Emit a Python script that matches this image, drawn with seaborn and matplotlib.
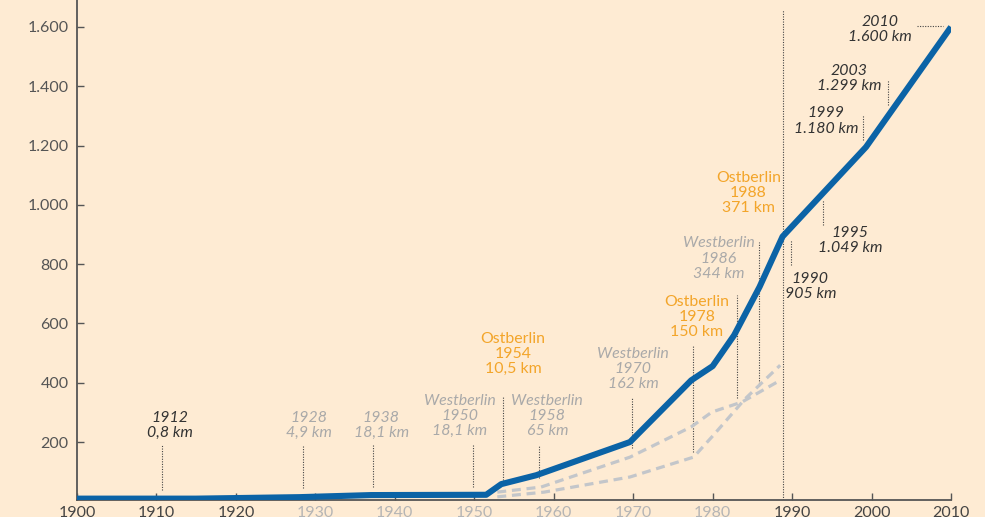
import matplotlib
matplotlib.use("Agg")
import matplotlib.pyplot as plt
import pandas as pd
import seaborn as sns
from matplotlib.ticker import FuncFormatter

# Streckennetz gesamt (km)
total_years = [1900, 1915, 1928, 1937, 1951.5, 1953.4, 1957.8, 1969.6, 1977.3,
               1980.0, 1982.7, 1985.9, 1988.8, 1999.3, 2010]
total_km = [9, 9, 14, 21, 22, 58, 88, 200, 408, 456, 560, 723, 893, 1195, 1600]

# Westberlin / Ostberlin (gestrichelt)
west_years = [1952.9, 1958.4, 1969.6, 1977.3, 1979.9, 1983.7, 1988.5]
west_km = [31, 48, 149, 251, 301, 335, 408]
east_years = [1952.9, 1958.8, 1969.6, 1977.6, 1979.9, 1984.1, 1988.5]
east_km = [15, 31, 82, 149, 217, 346, 459]

x_ticks = list(range(1900, 2011, 10))
faded_x_ticks = [1930, 1940, 1950, 1960, 1970, 1980]
y_ticks = [200, 400, 600, 800, 1000, 1200, 1400, 1600]

BG = "#FEEBD3"
BLUE = "#0B63A6"
ORANGE = "#F3A52A"
GREY = "#A9A9A9"
DARK = "#333333"
DASH = "#C3C6CA"

# label text, colour, italic, x (year), y (km)
labels = [
    ("1912\n0,8 km", DARK, True, 1911.7, 256),
    ("1928\n4,9 km", GREY, True, 1929.2, 257),
    ("1938\n18,1 km", GREY, True, 1938.3, 257),
    ("Westberlin\n1950\n18,1 km", GREY, True, 1948.2, 288),
    ("Ostberlin\n1954\n10,5 km", ORANGE, False, 1954.9, 497),
    ("Westberlin\n1958\n65 km", GREY, True, 1959.2, 288),
    ("Westberlin\n1970\n162 km", GREY, True, 1970.0, 445),
    ("Ostberlin\n1978\n150 km", ORANGE, False, 1978.0, 622),
    ("Westberlin\n1986\n344 km", GREY, True, 1980.8, 819),
    ("Ostberlin\n1988\n371 km", ORANGE, False, 1984.5, 1039),
    ("1990\n905 km", DARK, True, 1992.3, 726),
    ("1995\n1.049 km", DARK, True, 1997.3, 881),
    ("1999\n1.180 km", DARK, True, 1994.3, 1283),
    ("2003\n1.299 km", DARK, True, 1997.2, 1427),
    ("2010\n1.600 km", DARK, True, 2001.1, 1590),
]

# dotted leader lines: x, y from, y to
leaders = [
    (1910.7, 38, 189), (1928.4, 45, 189), (1937.3, 48, 189), (1949.8, 48, 189),
    (1953.6, 72, 352), (1958.1, 79, 190), (1969.9, 180, 352), (1977.5, 167, 527),
    (1983.1, 348, 697), (1985.8, 390, 875), (1988.9, 4, 1658), (1989.9, 797, 881),
    (1993.9, 932, 1016), (1998.9, 1219, 1303), (2002.1, 1337, 1421),
]

sns.set_style("ticks")
plt.rcParams["font.family"] = ["Lato", "DejaVu Sans"]

fig = plt.figure(figsize=(9.85, 5.17), dpi=100, facecolor=BG)
ax = fig.add_axes([77 / 985, 17 / 517, (951 - 77) / 985, 500 / 517])
ax.set_facecolor(BG)

west = pd.DataFrame({"jahr": west_years, "km": west_km})
east = pd.DataFrame({"jahr": east_years, "km": east_km})
total = pd.DataFrame({"jahr": total_years, "km": total_km})

for df in (west, east):
    sns.lineplot(data=df, x="jahr", y="km", ax=ax, color=DASH, linewidth=2.3,
                 linestyle=(0, (2.8, 1.8)), estimator=None, sort=False)

for x, y0, y1 in leaders:
    ax.plot([x, x], [y0, y1], color="#444444", linewidth=0.8,
            linestyle=(0, (1, 1.3)), zorder=1)
ax.plot([2005.7, 2009.0], [1604, 1604], color="#444444", linewidth=0.8,
        linestyle=(0, (1, 1.3)), zorder=1)

sns.lineplot(data=total, x="jahr", y="km", ax=ax, color=BLUE, linewidth=4.4,
             estimator=None, sort=False, solid_capstyle="butt", zorder=3)

for text, color, italic, x, y in labels:
    ax.text(x, y, text, color=color, ha="center", va="center", fontsize=11.4,
            style="italic" if italic else "normal", linespacing=1.1, zorder=4)

ax.set_xlim(1900, 2010)
ax.set_ylim(4.4, 1691)
ax.set_xticks(x_ticks)
ax.set_yticks(y_ticks)
ax.yaxis.set_major_formatter(FuncFormatter(lambda v, p: f"{int(v):,}".replace(",", ".")))
ax.set_xlabel("")
ax.set_ylabel("")

ax.tick_params(axis="both", direction="in", length=5, width=1, color="#555555",
               labelsize=11.5, labelcolor="#555555")
ax.tick_params(axis="x", pad=4)
ax.tick_params(axis="y", pad=6)
for lab in ax.get_xticklabels():
    if int(float(lab.get_text().replace("−", "-"))) in faded_x_ticks:
        lab.set_color("#B5B5B5")
    else:
        lab.set_color("#444444")

for s in ("top", "right"):
    ax.spines[s].set_visible(False)
for s in ("left", "bottom"):
    ax.spines[s].set_color("#555555")
    ax.spines[s].set_linewidth(1.3)

fig.savefig("out.png", dpi=100, facecolor=BG)
